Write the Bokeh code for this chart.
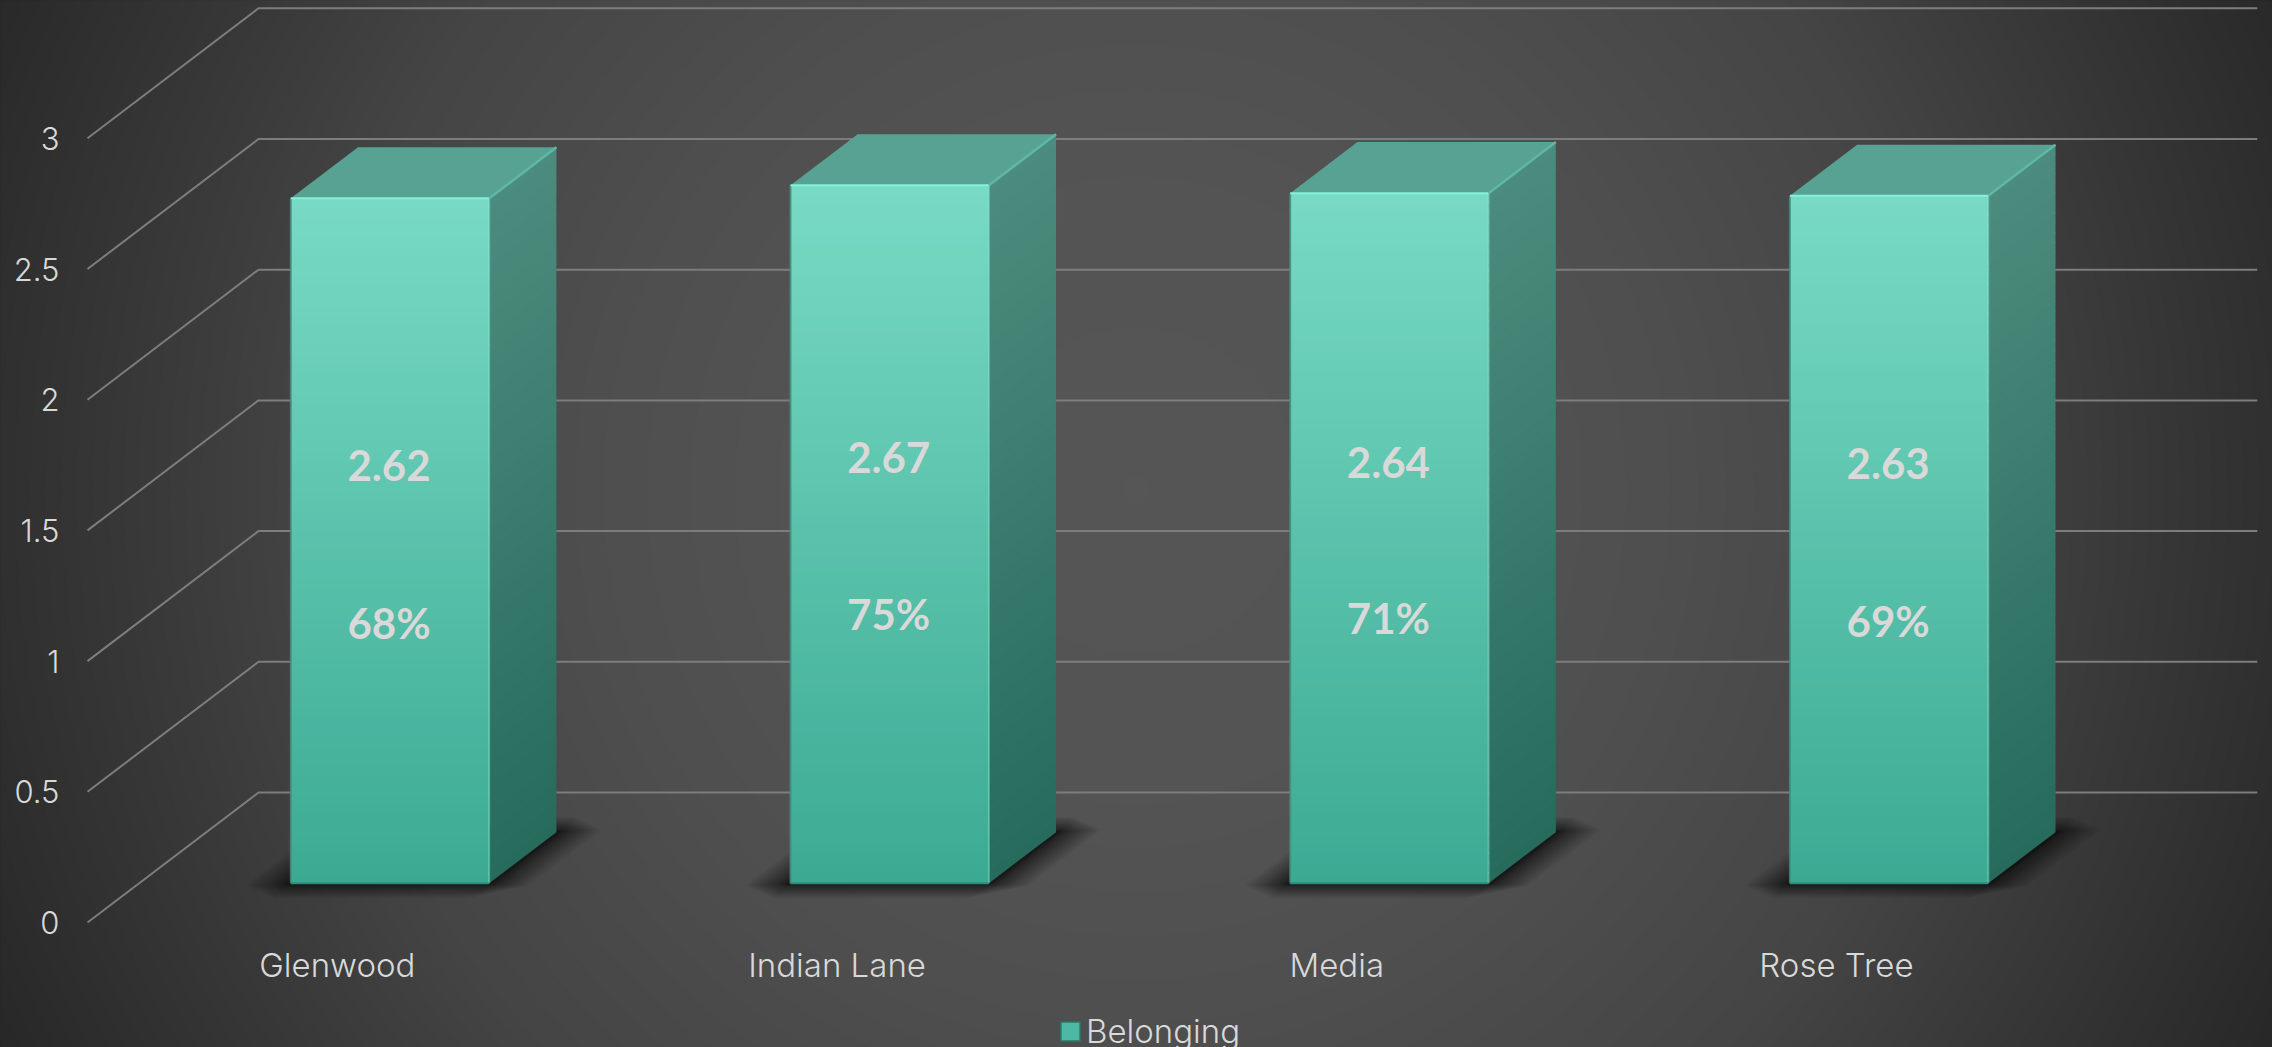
import numpy as np
from bokeh.embed import file_html
from bokeh.resources import INLINE
from bokeh.core.properties import value
from bokeh.plotting import figure
from bokeh.models import (Range1d, LinearAxis, FixedTicker, Legend, LegendItem,
                          GlobalInlineStyleSheet)

categories = ["Glenwood", "Indian Lane", "Media", "Rose Tree"]
scores = [2.62, 2.67, 2.64, 2.63]
percents = ["68%", "75%", "71%", "69%"]
score_labels = ["2.62", "2.67", "2.64", "2.63"]
y_ticks = [0, 0.5, 1, 1.5, 2, 2.5, 3]
y_tick_labels = ["0", "0.5", "1", "1.5", "2", "2.5", "3"]
series_name = "Belonging"

W, H = 2272, 1047
LEFT, BASE = 87.0, 922.0       # pixel of category 0 / value 0 on the front plane
PX_X, PX_Y = 499.7, 261.4      # pixels per category / per unit of value
ZX, ZY = 171.0 / PX_X, 130.0 / PX_Y   # oblique projection of depth
BAR_HALF = 0.1985
BAR_SHIFT = 0.002
Z0, Z1 = 0.302, 0.695
PCT_FRAC = [0.380, 0.386, 0.384, 0.382]
LIGHT = "Inter Light, Inter"
BOLD = "Lato"


def mix(a, b, t):
    a, b = np.array(a, float), np.array(b, float)
    c = a + (b - a) * t
    return "#%02x%02x%02x" % tuple(int(round(v)) for v in c)


def rgb(h):
    return tuple(int(h[i:i + 2], 16) for i in (1, 3, 5))


p = figure(width=W, height=H, output_backend="svg", toolbar_location=None,
           x_range=Range1d(-LEFT / PX_X, (W - LEFT) / PX_X),
           y_range=Range1d((BASE - H) / PX_Y, BASE / PX_Y),
           x_axis_location=None, y_axis_location=None,
           min_border=0, outline_line_color=None, background_fill_color="#272727",
           border_fill_color="#272727")
p.grid.visible = False
p.stylesheets = [GlobalInlineStyleSheet(css="html,body{margin:0;padding:0;background:#272727;overflow:hidden}")]

# background: banded radial gradient, drawn as concentric discs
cx, cy = (1136 - LEFT) / PX_X, (BASE - 490) / PX_Y
radii = np.array([0, 300, 520, 800, 1014, 1250, 1300], float)
greys = np.array([0x56, 0x54, 0x4f, 0x45, 0x37, 0x28, 0x27], float)
levels = np.arange(0x27, 0x57)
ring_r = np.interp(levels, greys[::-1], radii[::-1])
ring_cols = ["#%02x%02x%02x" % (l, l, l) for l in levels]
p.scatter(x=[cx] * len(levels), y=[cy] * len(levels), size=(ring_r + 14) * 2,
          marker="circle", fill_color=ring_cols, line_color=None)

# walls: gridlines run from the front plane to the back plane, then along the back
n_cat = len(categories)
gx, gy = [], []
for t in y_ticks:
    gx.append([0, ZX, n_cat + ZX])
    gy.append([t, t + ZY, t + ZY])
p.multi_line(gx, gy, line_color="#7d7d7d", line_width=2)

# soft shadows on the floor: stacked octagons with cut corners
LAYERS = 26
for i in range(n_cat):
    xm = i + 0.5 + BAR_SHIFT
    for k in range(LAYERS):
        t = (1 - k / (LAYERS - 1)) ** 2
        dx, dz = 0.006 + 0.078 * t, 0.006 + 0.11 * t
        cutx, cutz = 0.09 * t, 0.1 * t
        xa, xb = xm - BAR_HALF - dx, xm + BAR_HALF + dx
        za, zb = Z0 - dz, Z1 + dz
        pts = [(xa + cutx, za), (xb - cutx, za), (xb, za + cutz), (xb, zb - cutz),
               (xb - cutx, zb), (xa + cutx, zb), (xa, zb - cutz), (xa, za + cutz)]
        p.patch([a + ZX * b for a, b in pts], [ZY * b for a, b in pts],
                fill_color="#141414", fill_alpha=0.053, line_color=None)

# 3D bars
N = 70
F_TOP, F_BOT = rgb("#78dac4"), rgb("#3caa93")
S_TOP, S_BOT = rgb("#4c8c7e"), rgb("#266b5c")
for i, v in enumerate(scores):
    xa, xb = i + 0.5 + BAR_SHIFT - BAR_HALF, i + 0.5 + BAR_SHIFT + BAR_HALF
    f = np.linspace(0, 1, N + 1)
    cols = [mix(F_BOT, F_TOP, (f[j] + f[j + 1]) / 2) for j in range(N)]
    ov = 0.004
    # side
    xs, ys, sc = [], [], []
    for j in range(N):
        lo, hi = v * f[j], v * f[j + 1] + (ov if j < N - 1 else 0)
        xs.append([xb + ZX * Z0, xb + ZX * Z1, xb + ZX * Z1, xb + ZX * Z0])
        ys.append([lo + ZY * Z0, lo + ZY * Z1, hi + ZY * Z1, hi + ZY * Z0])
        sc.append(mix(S_BOT, S_TOP, (f[j] + f[j + 1]) / 2))
    p.patches(xs, ys, fill_color=sc, line_color=None)
    # top
    p.patch([xa + ZX * Z0, xb + ZX * Z0, xb + ZX * Z1, xa + ZX * Z1],
            [v + ZY * Z0, v + ZY * Z0, v + ZY * Z1, v + ZY * Z1],
            fill_color="#57a292", line_color=None)
    # front
    tops = v * f[1:] + ZY * Z0 + ov
    tops[-1] = v + ZY * Z0
    p.quad(left=[xa + ZX * Z0] * N, right=[xb + ZX * Z0] * N,
           bottom=v * f[:-1] + ZY * Z0, top=tops,
           fill_color=cols, line_color=None)
    # edges
    p.line([xa + ZX * Z0, xa + ZX * Z0], [ZY * Z0, v + ZY * Z0], line_color="#3f8f7e", line_width=2, line_alpha=0.8)
    p.line([xb + ZX * Z0, xb + ZX * Z0], [ZY * Z0, v + ZY * Z0], line_color="#8cf0da", line_width=2, line_alpha=0.45)
    p.line([xa + ZX * Z0, xb + ZX * Z0], [ZY * Z0, ZY * Z0], line_color="#2f8c79", line_width=2)
    p.line([xa + ZX * Z0, xb + ZX * Z0], [v + ZY * Z0, v + ZY * Z0], line_color="#86f0d8", line_width=2)
    p.line([xb + ZX * Z0, xb + ZX * Z1], [v + ZY * Z0, v + ZY * Z1], line_color="#5fb8a5", line_width=2.5)

    # data labels
    fx = i + 0.5 + ZX * Z0
    p.text([fx], [v * 0.61 + ZY * Z0], text=[score_labels[i]], text_align="center",
           text_baseline="middle", text_color="#d9d9d9", text_font=value(BOLD),
           text_font_style="bold", text_font_size="42px")
    p.text([fx], [v * PCT_FRAC[i] + ZY * Z0], text=[percents[i]], text_align="center",
           text_baseline="middle", text_color="#d9d9d9", text_font=value(BOLD),
           text_font_style="bold", text_font_size="42px")

# axes
yaxis = LinearAxis(fixed_location=0, ticker=FixedTicker(ticks=y_ticks),
                   major_label_overrides={t: s for t, s in zip(y_ticks, y_tick_labels)},
                   axis_line_color=None, major_tick_line_color=None, minor_tick_line_color=None,
                   major_tick_in=0, major_tick_out=0, minor_tick_in=0, minor_tick_out=0,
                   major_label_standoff=28, major_label_text_color="#d9d9d9",
                   major_label_text_font=LIGHT, major_label_text_font_size="31px")
p.add_layout(yaxis, "left")
xticks = [i + 0.5 for i in range(n_cat)]
xaxis = LinearAxis(fixed_location=0, ticker=FixedTicker(ticks=xticks),
                   major_label_overrides={t: s for t, s in zip(xticks, categories)},
                   axis_line_color=None, major_tick_line_color=None, minor_tick_line_color=None,
                   major_tick_in=0, major_tick_out=0, minor_tick_in=0, minor_tick_out=0,
                   major_label_standoff=22, major_label_text_color="#d9d9d9",
                   major_label_text_font=LIGHT, major_label_text_font_size="33px")
p.add_layout(xaxis, "below")

# legend: its key glyph is a quad parked outside the visible range
key = p.quad(left=[-50], right=[-49], bottom=[-50], top=[-49],
             fill_color="#4db8a3", line_color="#2c7465", line_width=1.5)
legend = Legend(items=[LegendItem(label=series_name, renderers=[key])], location=(1058, -4),
                margin=0, padding=0, spacing=0, glyph_width=24, glyph_height=24, label_standoff=4,
                background_fill_alpha=0, border_line_color=None, label_text_color="#d9d9d9",
                label_text_font=LIGHT, label_text_font_size="33px", label_height=24, level="glyph")
p.add_layout(legend)
p.scatter(x=[(1069.5 - LEFT) / PX_X], y=[(BASE - 1030) / PX_Y], marker="square", size=9,
          fill_color="#70d8c2", line_color="#3e9a87", line_width=1, level="overlay")

open("out.html", "w").write(file_html(p, INLINE))
